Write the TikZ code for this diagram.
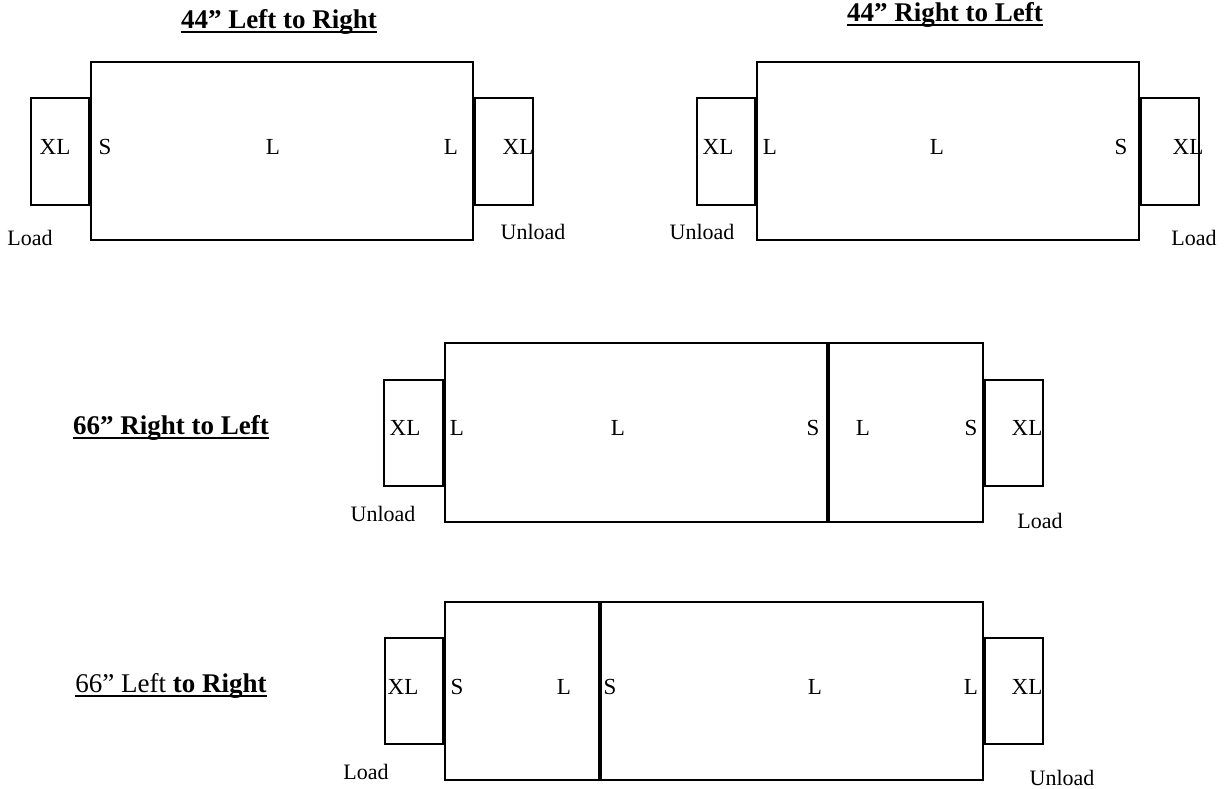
\documentclass[tikz,border=0pt]{standalone}
\usepackage{fontspec}
\setmainfont{Liberation Serif}
\usetikzlibrary{positioning}
\tikzset{
  box/.style={draw,line width=1.7pt},
  joint/.style={line width=3.4pt},
  cell/.style={font=\fontsize{23}{25}\selectfont,inner sep=0pt},
  side/.style={font=\fontsize{22}{24}\selectfont,inner sep=0pt},
  title/.style={font=\fontsize{27}{30}\selectfont\bfseries,inner sep=0pt,anchor=base},
}

\begin{document}
\begin{tikzpicture}[x=1pt,y=-1pt]
  \useasboundingbox (0,0) rectangle (1225,788);
  % 44 inch, left to right
  \node[title] (ttla) at (279,28) {44” Left to Right};
  \draw[line width=2pt] ([yshift=-4pt]ttla.base west) -- ([yshift=-4pt]ttla.base east);
  \draw[box] (91,62) rectangle (473,240);
  \draw[box] (31,98) rectangle (90,205);
  \draw[box] (474,98) rectangle (533,205);
  \draw[joint] (90,98) -- (90,205);
  \draw[joint] (474,98) -- (474,205);
  \node[cell] (xla) at (55,147) {XL};
  \node[cell] (sa) at (105,147) {S};
  \node[cell] (la) at (273,147) {L};
  \node[cell] (lb) at (451,147) {L};
  \node[cell] (xlb) at (518,147) {XL};
  \node[side] (lda) at (30,238) {Load};
  \node[side] (ula) at (533,232) {Unload};

  % 44 inch, right to left
  \node[title] (ttlb) at (945,21) {44” Right to Left};
  \draw[line width=2pt] ([yshift=-4pt]ttlb.base west) -- ([yshift=-4pt]ttlb.base east);
  \draw[box] (757,62) rectangle (1139,240);
  \draw[box] (697,98) rectangle (756,205);
  \draw[box] (1140,98) rectangle (1199,205);
  \draw[joint] (756,98) -- (756,205);
  \draw[joint] (1140,98) -- (1140,205);
  \node[cell] (xlc) at (718,147) {XL};
  \node[cell] (lc) at (770,147) {L};
  \node[cell] (ld) at (937,147) {L};
  \node[cell] (sc) at (1121,147) {S};
  \node[cell] (xld) at (1188,147) {XL};
  \node[side] (ulb) at (702,232) {Unload};
  \node[side] (ldb) at (1194,238) {Load};

  % 66 inch, right to left
  \node[title] (ttlc) at (171,434) {66” Right to Left};
  \draw[line width=2pt] ([yshift=-4pt]ttlc.base west) -- ([yshift=-4pt]ttlc.base east);
  \draw[box] (445,343) rectangle (983,522);
  \draw[box] (384,380) rectangle (444,486);
  \draw[box] (984,380) rectangle (1043,486);
  \draw[joint] (444,380) -- (444,486);
  \draw[joint] (984,380) -- (984,486);
  \draw[joint] (828,343) -- (828,522);
  \node[cell] (xle) at (405,428) {XL};
  \node[cell] (le) at (457,428) {L};
  \node[cell] (lf) at (618,428) {L};
  \node[cell] (se) at (813,428) {S};
  \node[cell] (lg) at (863,428) {L};
  \node[cell] (sf) at (971,428) {S};
  \node[cell] (xlf) at (1027,428) {XL};
  \node[side] (ulc) at (383,514) {Unload};
  \node[side] (ldc) at (1040,521) {Load};

  % 66 inch, left to right
  \node[title] (ttld) at (171,692) {{\mdseries 66” Left} to Right};
  \draw[line width=2pt] ([yshift=-4pt]ttld.base west) -- ([yshift=-4pt]ttld.base east);
  \draw[box] (445,602) rectangle (983,780);
  \draw[box] (385,638) rectangle (444,744);
  \draw[box] (984,638) rectangle (1043,744);
  \draw[joint] (444,638) -- (444,744);
  \draw[joint] (984,638) -- (984,744);
  \draw[joint] (600,602) -- (600,780);
  \node[cell] (xlg) at (403,687) {XL};
  \node[cell] (sg) at (457,687) {S};
  \node[cell] (lh) at (564,687) {L};
  \node[cell] (sh) at (610,687) {S};
  \node[cell] (li) at (815,687) {L};
  \node[cell] (lj) at (971,687) {L};
  \node[cell] (xlh) at (1027,687) {XL};
  \node[side] (ldd) at (366,772) {Load};
  \node[side] (uld) at (1062,778) {Unload};
\end{tikzpicture}
\end{document}
